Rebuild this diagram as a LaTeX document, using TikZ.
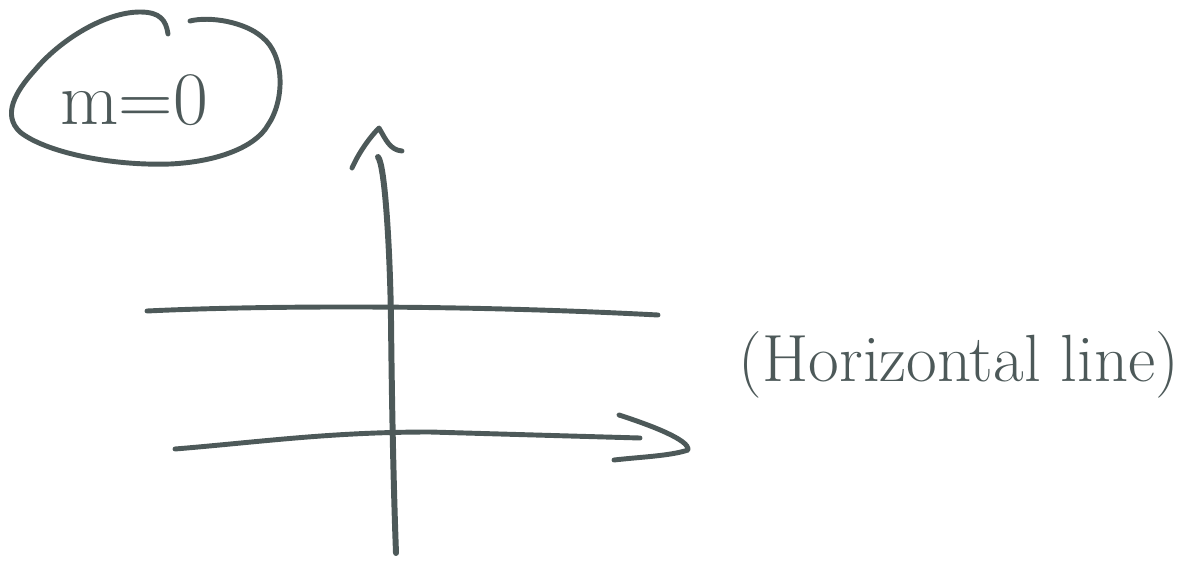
\documentclass[tikz,border=0pt]{standalone}
\begin{document}
\begin{tikzpicture}[x=0.02cm,y=-0.02cm,
  pen/.style={draw=ink,line width=2.8pt,line cap=round,line join=round},
  lbl/.style={text=ink,inner sep=0pt}]
\definecolor{ink}{HTML}{4D5959}
\useasboundingbox (0,0) rectangle (1199,561);
% oval around label
\draw[pen] (168,34) .. controls (166,20) and (160,12) .. (140,12)
  .. controls (105,12) and (60,40) .. (35,70)
  .. controls (15,92) and (2,115) .. (20,132)
  .. controls (45,152) and (110,166) .. (170,164)
  .. controls (215,162) and (255,148) .. (268,125)
  .. controls (285,100) and (285,55) .. (262,37)
  .. controls (245,22) and (210,16) .. (190,21);
\node[lbl,font=\fontsize{43}{47}\selectfont] (m) at (134,100) {m=0};
% vertical axis
\coordinate (vtop) at (378,157);
\coordinate (vbot) at (396,553);
\draw[pen,line width=3.4pt] (vtop) .. controls (385,165) and (390,250) .. (391,320)
  .. controls (392,420) and (394,500) .. (vbot);
\coordinate (ah1) at (352,168);
\coordinate (ah2) at (379,128);
\coordinate (ah3) at (402,151);
\draw[pen] (ah1) .. controls (360,150) and (372,135) .. (ah2)
  .. controls (386,140) and (390,150) .. (ah3);
% horizontal line
\coordinate (h1) at (147,311);
\coordinate (h2) at (658,315);
\draw[pen] (h1) .. controls (250,306) and (450,304) .. (h2);
% x-axis with arrow
\coordinate (x1) at (175,449);
\coordinate (x2) at (640,438);
\draw[pen] (x1) .. controls (260,442) and (330,432) .. (430,432) -- (x2);
\coordinate (b1) at (619,415);
\coordinate (b2) at (688,450);
\coordinate (b3) at (614,460);
\draw[pen] (b1) .. controls (650,425) and (690,440) .. (b2)
  .. controls (670,456) and (640,457) .. (b3);
\node[lbl,font=\fontsize{38}{42}\selectfont] (t) at (959,365) {(Horizontal line)};
\end{tikzpicture}
\end{document}
